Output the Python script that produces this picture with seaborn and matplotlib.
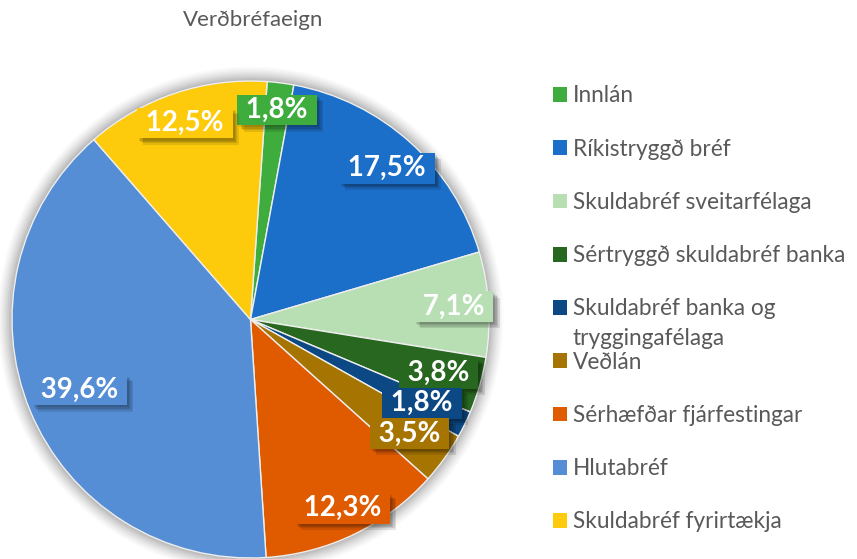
import matplotlib
matplotlib.use("Agg")
import numpy as np
import matplotlib.pyplot as plt
import matplotlib.patheffects as pe
from matplotlib.patches import Circle
import seaborn as sns

# ---- data ----
categories = [
    "Innlán",
    "Ríkistryggð bréf",
    "Skuldabréf sveitarfélaga",
    "Sértryggð skuldabréf banka",
    "Skuldabréf banka og tryggingafélaga",
    "Veðlán",
    "Sérhæfðar fjárfestingar",
    "Hlutabréf",
    "Skuldabréf fyrirtækja",
]
shares = [1.8, 17.5, 7.1, 3.8, 1.8, 3.5, 12.3, 39.6, 12.5]
colors = ["#3fad3d", "#1c6fc9", "#b8dfb4", "#27671f", "#0b4884",
          "#a67400", "#e05a00", "#558ed5", "#fdcb0c"]
title = "Verðbréfaeign"

# layout: radial placement of each value label (fraction of radius)
label_radius = [0.885, 0.853, 0.853, 0.82, 0.80, 0.82, 0.88, 0.777, 0.868]

W, H = 857, 559
sns.set_theme(style="white")
plt.rcParams['font.family'] = ['Lato', 'DejaVu Sans']

fig = plt.figure(figsize=(W / 100, H / 100), dpi=100)
fig.patch.set_facecolor("white")

cx, cy, r = 250.5, 319.5, 238.5
ax = fig.add_axes([(cx - r) / W, 1 - (cy + r) / H, 2 * r / W, 2 * r / H])

# soft glow around the pie
for k, a in zip(np.linspace(1.06, 1.005, 8), np.linspace(0.02, 0.06, 8)):
    ax.add_patch(Circle((0, 0), k, facecolor="black", edgecolor="none",
                        alpha=a, zorder=0, clip_on=False))

palette = sns.color_palette(colors)
wedges, texts, autotexts = ax.pie(
    shares, colors=palette, startangle=86, counterclock=False,
    autopct="%1.1f%%", pctdistance=0.83,
    wedgeprops=dict(edgecolor="#eeeeee", linewidth=1.0),
)
ax.set_xlim(-1, 1)
ax.set_ylim(-1, 1)
for w in wedges:
    w.set_clip_on(False)
    w.set_zorder(1)

shadow = [pe.SimplePatchShadow(offset=(o, -o), shadow_rgbFace="black", alpha=0.10)
          for o in (4.5, 3.5, 2.5, 1.5)] + [pe.Normal()]
for t, w, v, c, rr in zip(autotexts, wedges, shares, palette, label_radius):
    th = np.deg2rad((w.theta1 + w.theta2) / 2)
    t.set_position((rr * np.cos(th), rr * np.sin(th)))
    t.set_text(" " + f"{v:.1f}%".replace(".", ",") + " ")
    t.set_color("white")
    t.set_fontsize(20)
    t.set_fontweight("bold")
    t.set_zorder(5)
    t.set_bbox(dict(boxstyle="square,pad=0.08", facecolor=c, edgecolor="none"))
    t.get_bbox_patch().set_path_effects(shadow)

fig.text(253 / W, 1 - 20 / H, title, ha="center", va="center",
         fontsize=16, color="#595959")

# legend: uniform slots, second line of long entry overflows
leg_labels = list(categories)
first, second = "Skuldabréf banka og", "tryggingafélaga"
leg_labels[4] = first
fs = 16.3
fs_px = fs * 100 / 72


def make_legend(spacing):
    return fig.legend(
        wedges, leg_labels, loc="upper left",
        bbox_to_anchor=(553 / W, 1 - 85.5 / H), frameon=False,
        fontsize=fs, labelcolor="#595959",
        handlelength=0.62, handleheight=0.62, handletextpad=0.25,
        labelspacing=spacing, borderpad=0, borderaxespad=0,
    )


leg = make_legend(0.0)
fig.canvas.draw()
tx = leg.get_texts()
pitch0 = tx[0].get_window_extent().y0 - tx[1].get_window_extent().y0
leg.remove()
leg = make_legend((53.25 - pitch0) / fs_px)
for h in leg.legend_handles:
    h.set_edgecolor("none")
fig.canvas.draw()
bb = leg.get_texts()[4].get_window_extent()
fig.text(bb.x0 / W, (bb.y0 - 30) / H, second, ha="left", va="bottom",
         fontsize=fs, color="#595959")

fig.savefig("out.png", dpi=100)
